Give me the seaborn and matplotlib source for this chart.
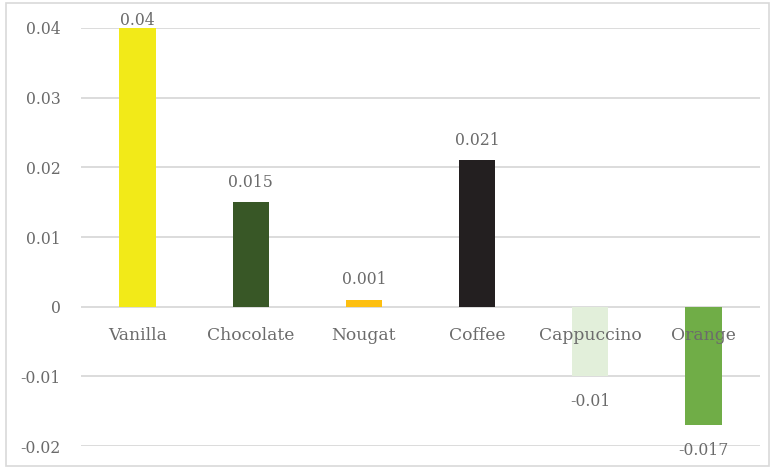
import matplotlib
matplotlib.use("Agg")
import matplotlib.pyplot as plt
import seaborn as sns
import pandas as pd
from matplotlib.patches import Rectangle

flavours = ["Vanilla", "Chocolate", "Nougat", "Coffee", "Cappuccino", "Orange"]
values = [0.04, 0.015, 0.001, 0.021, -0.01, -0.017]
value_labels = ["0.04", "0.015", "0.001", "0.021", "-0.01", "-0.017"]
colors = ["#F2EA18", "#385726", "#FDBF10", "#231F20", "#E2EFDA", "#70AD47"]
y_ticks = [-0.02, -0.01, 0, 0.01, 0.02, 0.03, 0.04]
y_tick_labels = ["-0.02", "-0.01", "0", "0.01", "0.02", "0.03", "0.04"]

sns.set_theme(style="white")
plt.rcParams["font.family"] = ["DejaVu Serif"]
text_color = "#6B6B6B"
fs_num = 11.3
fs_cat = 12.3

W, H, DPI = 775, 469, 100
fig = plt.figure(figsize=(W / DPI, H / DPI), dpi=DPI)
ax = fig.add_axes([81 / W, 1 - 446 / H, (760 - 81) / W, (446 - 28) / H])

df = pd.DataFrame({"flavour": flavours, "value": values})
sns.barplot(data=df, x="flavour", y="value", hue="flavour", palette=colors,
            order=flavours, hue_order=flavours, legend=False, width=0.32,
            saturation=1, linewidth=0, ax=ax, zorder=3)

ax.set_ylim(-0.02, 0.04)
ax.set_xlim(-0.5, len(flavours) - 0.5)
ax.set_yticks(y_ticks)
ax.set_yticklabels(y_tick_labels, color=text_color, fontsize=fs_num)
ax.tick_params(axis="y", length=0, pad=14.5)
ax.set_xticks([])
ax.set_xlabel("")
ax.set_ylabel("")
for s in ax.spines.values():
    s.set_visible(False)
ax.yaxis.grid(True, color="#D9D9D9", linewidth=1.3, zorder=0)
ax.set_axisbelow(True)

px = 72 / DPI  # points per pixel

# category names sit just below the zero line
for i, name in enumerate(flavours):
    ax.annotate(name, (i, 0), xytext=(0, -29 * px), textcoords="offset points",
                ha="center", va="center", color=text_color, fontsize=fs_cat,
                zorder=5, annotation_clip=False)

# value labels above positive bars, below negative ones
top = ax.get_ylim()[1]
unit_px = (446 - 28) / (top - ax.get_ylim()[0])
for i, (v, lab) in enumerate(zip(values, value_labels)):
    if v >= 0:
        room = (top - v) * unit_px
        off = min(20, 7 + room)
        ax.annotate(lab, (i, v), xytext=(0, off * px), textcoords="offset points",
                    ha="center", va="center", color=text_color, fontsize=fs_num,
                    zorder=5, annotation_clip=False)
    else:
        ax.annotate(lab, (i, v), xytext=(0, -25 * px), textcoords="offset points",
                    ha="center", va="center", color=text_color, fontsize=fs_num,
                    zorder=5, annotation_clip=False)

# light chart-area border
fig.patches.append(Rectangle((6 / W, 1 - 466 / H), (769 - 6) / W, (466 - 3) / H,
                             transform=fig.transFigure, fill=False,
                             edgecolor="#D9D9D9", linewidth=1.2))

fig.savefig("out.png", dpi=DPI)
